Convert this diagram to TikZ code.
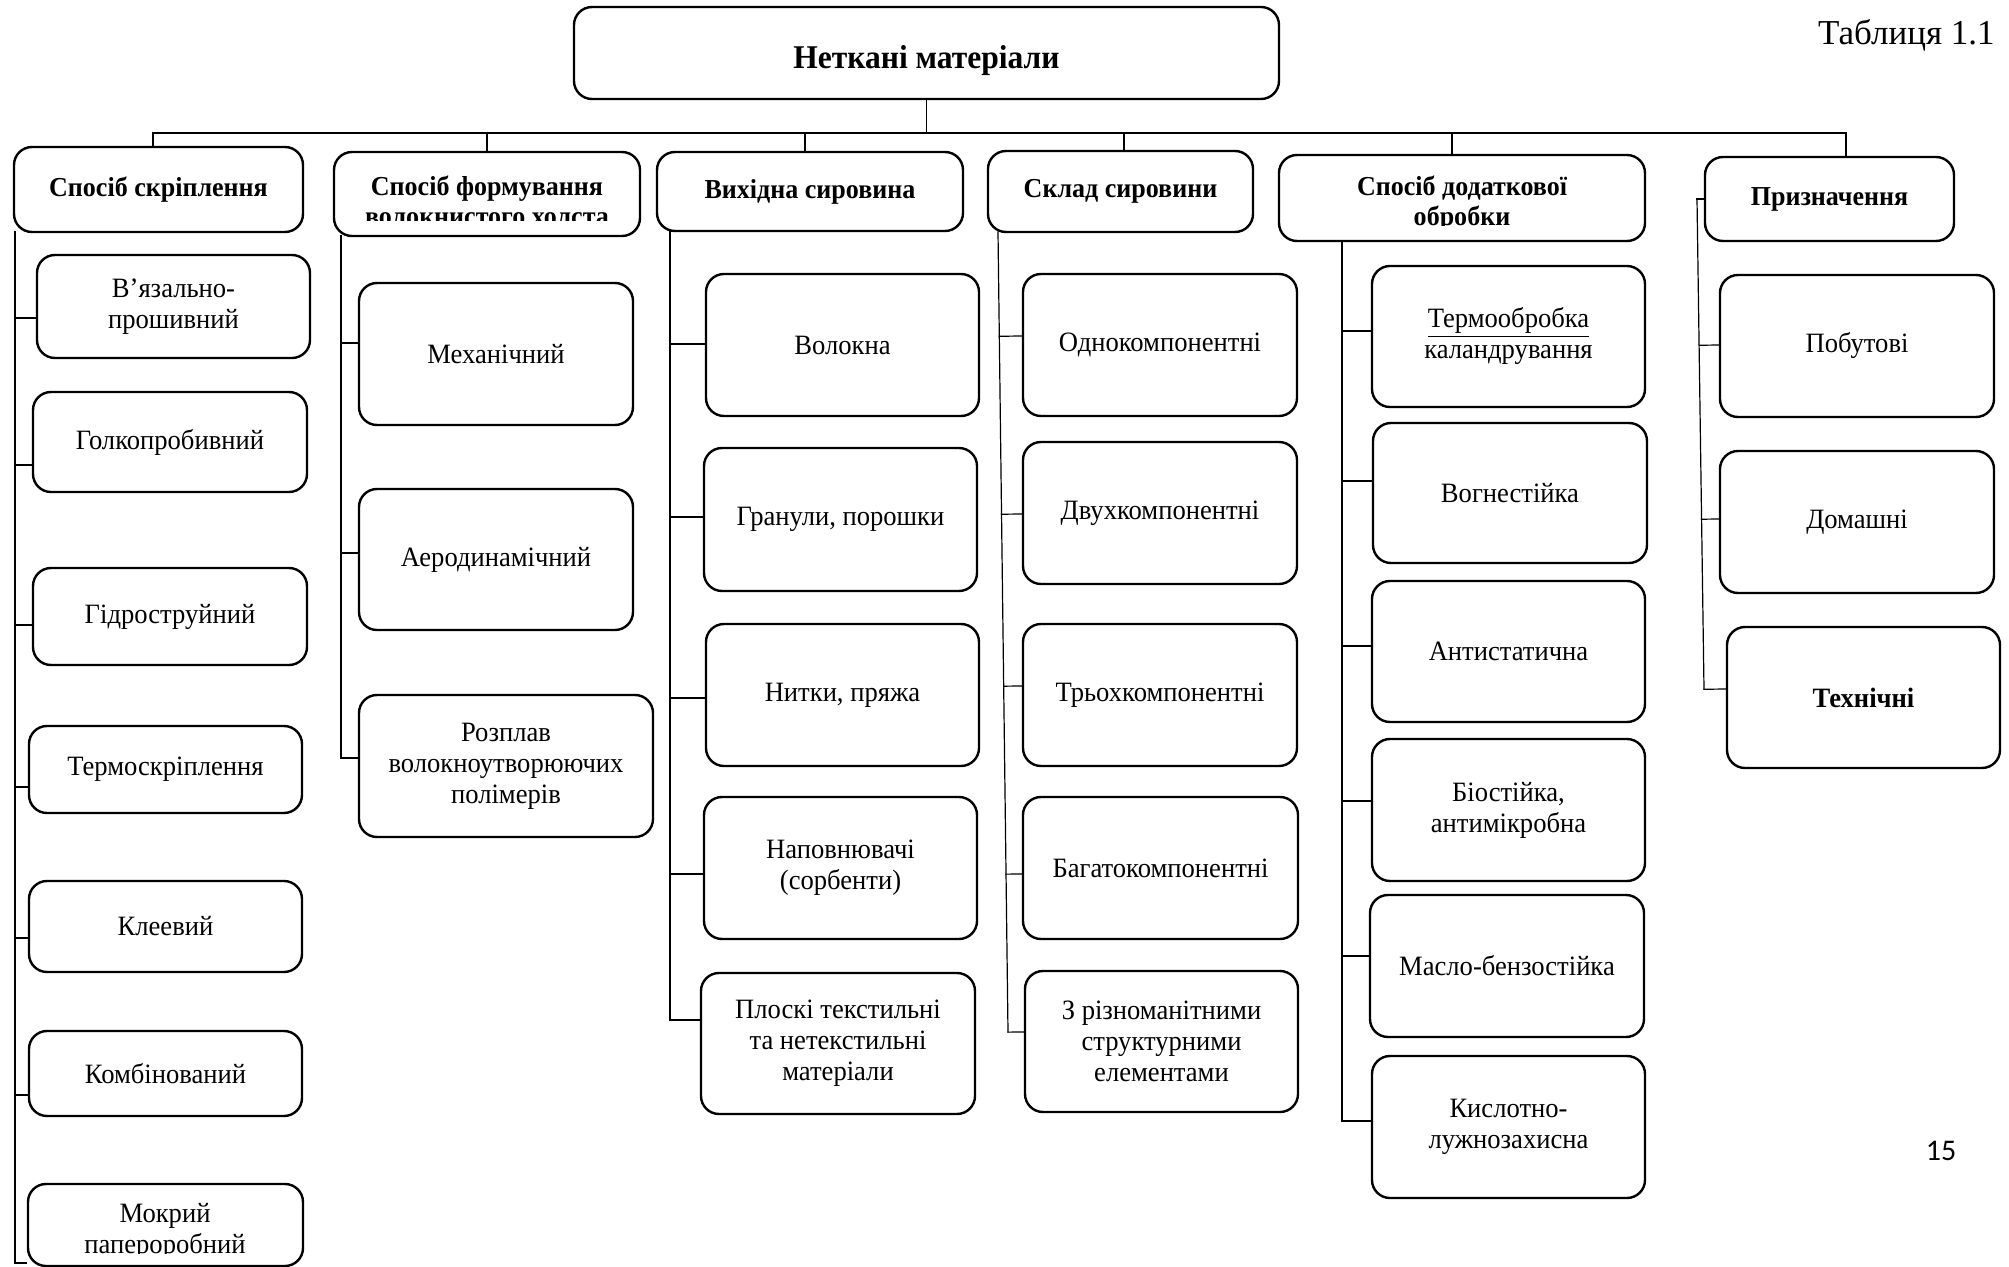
\documentclass[tikz,border=0pt]{standalone}
\usepackage{fontspec}
\setmainfont{Liberation Serif}
\newfontfamily\dgm{Liberation Serif}[FakeStretch=0.95]
\newfontfamily\pgnum{Carlito}
\usetikzlibrary{calc}
\tikzset{
  box/.style={draw, line width=1.2pt, rounded corners=9pt, inner sep=0pt, align=center,
    font=\dgm\fontsize{14}{15.5}\selectfont},
  hdr/.style={box, font=\dgm\bfseries\fontsize{13.7}{15}\selectfont},
  txt/.style={inner sep=0pt, align=center},
  conn/.style={line width=0.6pt, line cap=rect}
}
% \bx[style]{name}{left}{top}{right}{bottom}{text}
\newcommand\bx[7][box]{\node[#1, minimum width={(#5-#3)*0.5pt}, minimum height={(#6-#4)*0.5pt}] (#2) at ({(#3+#5)/2},{(#4+#6)/2}) {#7};}
\newcommand\tk[4]{\draw[conn] ($(#1)!(#3.west |- 0,#4)!(#2)$) -- (#3.west |- 0,#4);}
\begin{document}
\begin{tikzpicture}[x=0.5pt,y=-0.5pt]
\useasboundingbox (0,0) rectangle (2009,1267);
\clip (0,0) rectangle (2009,1267);

% title
\bx[box, text height=16pt, text depth=0pt, font=\dgm\bfseries\fontsize{16.6}{18}\selectfont]{title}{574}{7}{1279}{99}{Неткані матеріали}
\node[txt, anchor=base east, font=\fontsize{17.5}{20}\selectfont] (tabl) at (1995,45) {Таблиця 1.1};
\node[txt, font=\pgnum\fontsize{15}{17}\selectfont] (pg) at (1941,1151) {15};

% headers
\bx[hdr]{h1}{14}{147}{303}{232}{Спосіб скріплення}
\bx[hdr]{h2}{334}{152}{640}{236}{}
\begin{scope}
  \clip (340,158) rectangle (634,221);
  \node[txt, font=\dgm\bfseries\fontsize{13.7}{15}\selectfont] (h2t) at (487,201) {Спосіб формування\\волокнистого холста};
\end{scope}
\bx[hdr]{h3}{657}{152}{963}{231}{Вихідна сировина}
\bx[hdr]{h4}{988}{151}{1253}{232}{Склад сировини}
\bx[hdr]{h5}{1279}{155}{1645}{241}{}
\begin{scope}
  \clip (1285,160) rectangle (1639,226);
  \node[txt, font=\dgm\bfseries\fontsize{13.7}{15}\selectfont] (h5t) at (1462,204) {Спосіб додаткової\\обробки};
\end{scope}
\bx[hdr]{h6}{1705}{157}{1954}{241}{Призначення}

% bus
\coordinate (bus1) at (153,133);
\coordinate (bus2) at (487,133);
\coordinate (bus3) at (805,133);
\coordinate (bus4) at (1124,133);
\coordinate (bus5) at (1452,133);
\coordinate (bus6) at (1846,133);
\draw[conn] (title.south) -- (title.south |- bus1);
\draw[conn] (bus1) -- (bus6);
\draw[conn] (bus1) -- (bus1 |- h1.north);
\draw[conn] (bus2) -- (bus2 |- h2.north);
\draw[conn] (bus3) -- (bus3 |- h3.north);
\draw[conn] (bus4) -- (bus4 |- h4.north);
\draw[conn] (bus5) -- (bus5 |- h5.north);
\draw[conn] (bus6) -- (bus6 |- h6.north);

% column 1
\bx{c11}{37}{255}{310}{358}{В’язально-\\прошивний}
\bx{c12}{33}{392}{307}{492}{Голкопробивний}
\bx{c13}{33}{568}{307}{665}{Гідроструйний}
\bx{c14}{29}{726}{302}{813}{Термоскріплення}
\bx{c15}{29}{881}{302}{972}{Клеевий}
\bx{c16}{29}{1031}{302}{1116}{Комбінований}
\bx{c17}{28}{1184}{303}{1266}{}
\begin{scope}
  \clip (30,1186) rectangle (301,1253);
  \node[txt, font=\dgm\fontsize{14}{15.5}\selectfont] (c17t) at (165,1231) {Мокрий\\папероробний};
\end{scope}
\coordinate (k1) at (15,232);
\coordinate (k1b) at (15,1263);
\draw[conn] (k1) -- (k1b);
\tk{k1}{k1b}{c11}{318}
\tk{k1}{k1b}{c12}{465}
\tk{k1}{k1b}{c13}{625}
\tk{k1}{k1b}{c14}{787}
\tk{k1}{k1b}{c15}{938}
\tk{k1}{k1b}{c16}{1095}
\tk{k1}{k1b}{c17}{1263}

% column 2
\bx{c21}{359}{283}{633}{425}{Механічний}
\bx{c22}{359}{489}{633}{630}{Аеродинамічний}
\bx{c23}{359}{695}{653}{837}{Розплав\\волокноутворюючих\\полімерів}
\coordinate (k2) at (341,236);
\coordinate (k2b) at (341,758);
\draw[conn] (k2) -- (k2b);
\tk{k2}{k2b}{c21}{343}
\tk{k2}{k2b}{c22}{553}
\tk{k2}{k2b}{c23}{758}

% column 3
\bx{c31}{706}{274}{979}{416}{Волокна}
\bx{c32}{704}{448}{977}{591}{Гранули, порошки}
\bx{c33}{706}{624}{979}{766}{Нитки, пряжа}
\bx{c34}{704}{797}{977}{939}{Наповнювачі\\(сорбенти)}
\bx{c35}{701}{973}{975}{1114}{Плоскі текстильні\\та нетекстильні\\матеріали}
\coordinate (k3) at (670,231);
\coordinate (k3b) at (670,1020);
\draw[conn] (k3) -- (k3b);
\tk{k3}{k3b}{c31}{344}
\tk{k3}{k3b}{c32}{517}
\tk{k3}{k3b}{c33}{698}
\tk{k3}{k3b}{c34}{874}
\tk{k3}{k3b}{c35}{1020}

% column 4
\bx{c41}{1023}{274}{1297}{416}{Однокомпонентні}
\bx{c42}{1023}{442}{1297}{584}{Двухкомпонентні}
\bx{c43}{1023}{624}{1297}{766}{Трьохкомпонентні}
\bx{c44}{1023}{797}{1298}{939}{Багатокомпонентні}
\bx{c45}{1025}{971}{1298}{1112}{З різноманітними\\структурними\\елементами}
\coordinate (k4) at (998,232);
\coordinate (k4b) at (1008,1032);
\draw[conn] (k4) -- (k4b);
\tk{k4}{k4b}{c41}{336}
\tk{k4}{k4b}{c42}{514}
\tk{k4}{k4b}{c43}{686}
\tk{k4}{k4b}{c44}{874}
\tk{k4}{k4b}{c45}{1032}

% column 5
\bx{c51}{1372}{266}{1645}{407}{\underline{Термообробка}\\каландрування}
\bx{c52}{1373}{423}{1647}{563}{Вогнестійка}
\bx{c53}{1372}{581}{1645}{722}{Антистатична}
\bx{c54}{1372}{739}{1645}{881}{Біостійка,\\антимікробна}
\bx{c55}{1370}{895}{1644}{1037}{Масло-бензостійка}
\bx{c56}{1372}{1056}{1645}{1198}{Кислотно-\\лужнозахисна}
\coordinate (k5) at (1342,241);
\coordinate (k5b) at (1342,1121);
\draw[conn] (k5) -- (k5b);
\tk{k5}{k5b}{c51}{331}
\tk{k5}{k5b}{c52}{481}
\tk{k5}{k5b}{c53}{646}
\tk{k5}{k5b}{c54}{801}
\tk{k5}{k5b}{c55}{956}
\tk{k5}{k5b}{c56}{1121}

% column 6
\bx{c61}{1720}{275}{1994}{417}{Побутові}
\bx{c62}{1720}{451}{1994}{593}{Домашні}
\bx{c63}{1727}{627}{2000}{768}{\textbf{Технічні}}
\coordinate (k6) at (1697,199);
\coordinate (k6b) at (1704,689);
\draw[conn] (k6) -- (k6 -| h6.west);
\draw[conn] (k6) -- (k6b);
\tk{k6}{k6b}{c61}{345}
\tk{k6}{k6b}{c62}{519}
\tk{k6}{k6b}{c63}{689}
\end{tikzpicture}
\end{document}
